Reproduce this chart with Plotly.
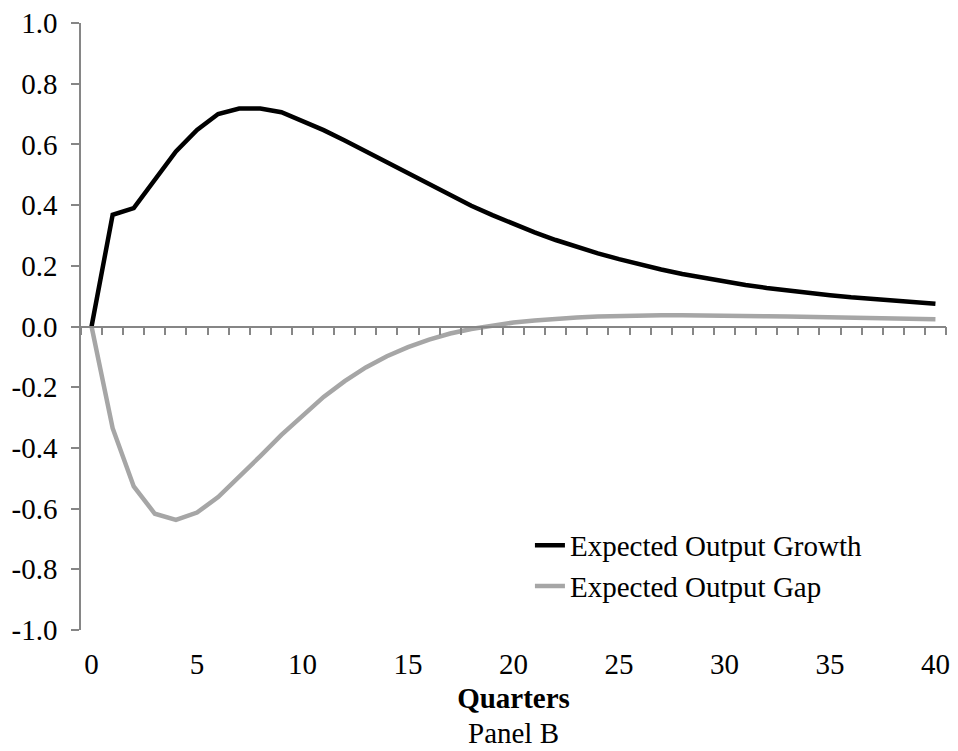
import plotly.graph_objects as go

quarters = list(range(0, 41))
expected_output_growth = [
    0.0, 0.368, 0.39, 0.484, 0.577, 0.648, 0.70, 0.718, 0.718, 0.706,
    0.678, 0.647, 0.613, 0.577, 0.54, 0.503, 0.467, 0.432, 0.398, 0.367,
    0.337, 0.31, 0.285, 0.262, 0.241, 0.222, 0.204, 0.188, 0.173, 0.16,
    0.148, 0.137, 0.127, 0.118, 0.11, 0.103, 0.096, 0.09, 0.085, 0.08, 0.075,
]
expected_output_gap = [
    0.0, -0.335, -0.527, -0.617, -0.637, -0.613, -0.562, -0.497, -0.427, -0.357,
    -0.292, -0.232, -0.18, -0.135, -0.098, -0.068, -0.043, -0.023, -0.008, 0.004,
    0.013, 0.02, 0.026, 0.03, 0.033, 0.035, 0.036, 0.037, 0.037, 0.037,
    0.036, 0.035, 0.034, 0.033, 0.032, 0.031, 0.03, 0.028, 0.027, 0.026, 0.024,
]
series_names = ["Expected Output Growth", "Expected Output Gap"]
x_tick_vals = [0, 5, 10, 15, 20, 25, 30, 35, 40]
x_minor_tick_vals = [i + 0.5 for i in range(-1, 41)]
y_tick_vals = [1.0, 0.8, 0.6, 0.4, 0.2, 0.0, -0.2, -0.4, -0.6, -0.8, -1.0]
y_tick_labels = ["1.0", "0.8", "0.6", "0.4", "0.2", "0.0", "-0.2", "-0.4", "-0.6", "-0.8", "-1.0"]
x_title = "Quarters"
panel_label = "Panel B"

FONT = "Liberation Serif, Times New Roman, serif"
AXIS_COLOR = "#868686"

fig = go.Figure()
fig.add_trace(go.Scatter(
    x=quarters, y=expected_output_growth, mode="lines", name=series_names[0],
    line=dict(color="#000000", width=4.5), xaxis="x", yaxis="y",
))
fig.add_trace(go.Scatter(
    x=quarters, y=expected_output_gap, mode="lines", name=series_names[1],
    line=dict(color="#A6A6A6", width=4.5), xaxis="x2", yaxis="y",
))

fig.update_layout(
    width=958, height=751,
    margin=dict(l=81, r=12, t=23, b=121),
    paper_bgcolor="white", plot_bgcolor="white",
    font=dict(family=FONT, size=29, color="#000000"),
    showlegend=True,
    legend=dict(
        x=0.519, y=0.1815, xanchor="left", yanchor="top",
        bgcolor="rgba(0,0,0,0)", font=dict(size=29, family=FONT),
        itemwidth=30,
    ),
    xaxis=dict(
        range=[-0.5, 40.5], tickvals=x_tick_vals, showline=False, ticks="",
        showgrid=False, zeroline=False, ticklabelstandoff=14, automargin=False,
        title=dict(text="<b>" + x_title + "</b>", font=dict(size=29, family=FONT), standoff=8),
    ),
    xaxis2=dict(
        overlaying="x", anchor="free", position=0.5, side="bottom",
        range=[-0.5, 40.5], tickvals=x_minor_tick_vals, showticklabels=False,
        showline=True, linecolor=AXIS_COLOR, linewidth=1.5,
        ticks="outside", ticklen=8, tickwidth=1.5, tickcolor=AXIS_COLOR,
        showgrid=False, zeroline=False, automargin=False,
    ),
    yaxis=dict(
        range=[-1.0, 1.0], tickvals=y_tick_vals, ticktext=y_tick_labels,
        showline=True, linecolor=AXIS_COLOR, linewidth=1.5,
        ticks="outside", ticklen=8, tickwidth=1.5, tickcolor=AXIS_COLOR,
        showgrid=False, zeroline=False, ticklabelstandoff=8, automargin=False,
    ),
    annotations=[dict(
        text=panel_label, xref="paper", yref="paper", x=0.5, y=-0.2,
        xanchor="center", yanchor="bottom", showarrow=False,
        font=dict(size=29, family=FONT),
    )],
)

fig.write_html(
    "out.html",
    config={"displayModeBar": False},
    post_script="document.body.style.margin='0';",
)
